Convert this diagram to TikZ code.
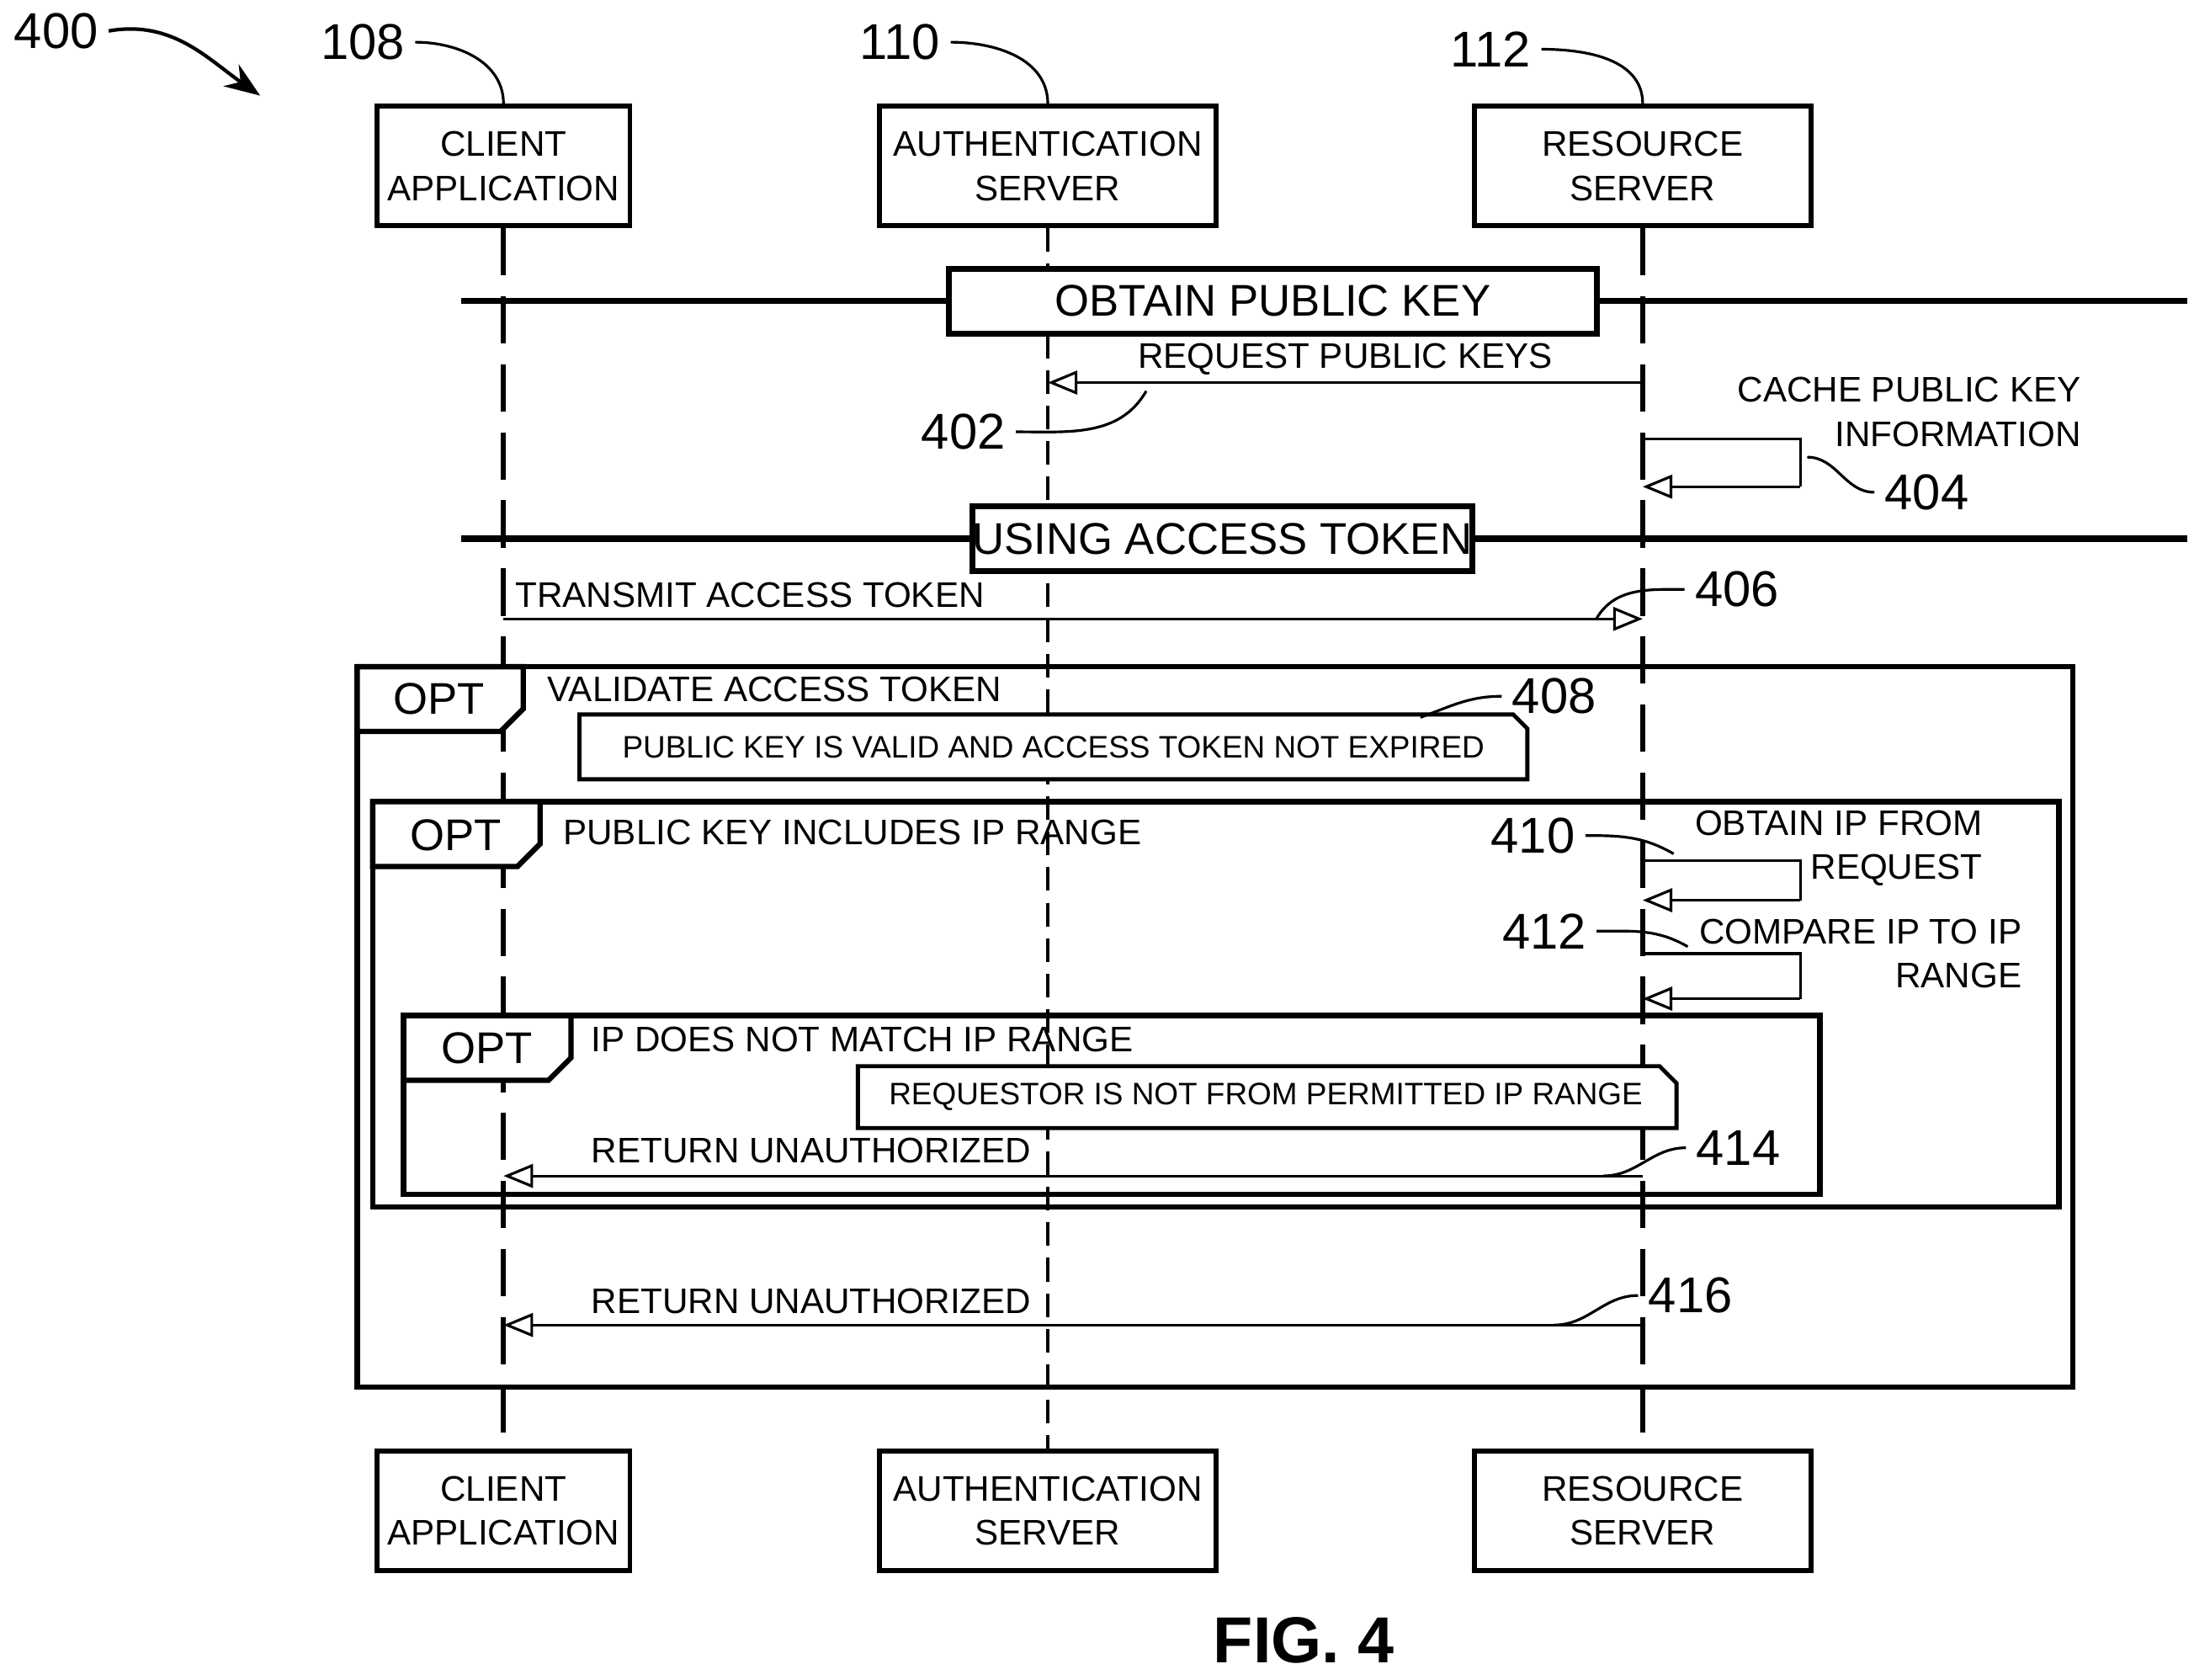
\documentclass[tikz,border=0pt]{standalone}
\usepackage{fontspec}
\setmainfont{Liberation Sans}
\usetikzlibrary{arrows.meta,positioning,shapes.misc}
\tikzset{
  actor/.style={draw,line width=1.6pt,minimum width=3.0cm,minimum height=1.42cm,inner sep=0pt,align=center,font=\fontsize{12}{15}\selectfont},
  wide/.style={minimum width=4.0cm},
  msg/.style={-{Triangle[open,length=10pt,width=8pt]},line width=0.9pt},
  life/.style={line width=1.8pt,dash pattern=on 16pt off 7pt},
  sep/.style={line width=2.2pt},
  sepbox/.style={draw,fill=white,line width=2pt,font=\fontsize{15}{18}\selectfont,inner sep=0pt},
  txt/.style={font=\fontsize{12}{15}\selectfont,inner sep=1pt},
  small/.style={font=\fontsize{10.5}{13}\selectfont,inner sep=1pt},
  ref/.style={font=\fontsize{17}{20}\selectfont},
  lead/.style={line width=0.9pt},
  frame/.style={draw,line width=1.8pt},
}
\begin{document}
\begin{tikzpicture}[x=0.01671cm,y=-0.01671cm]
\useasboundingbox (0,0) rectangle (1560,1194);
% actors
\node[actor] (cl) at (358,118) {CLIENT\\APPLICATION};
\node[actor,wide] (au) at (745,118) {AUTHENTICATION\\SERVER};
\node[actor,wide] (rs) at (1168,118) {RESOURCE\\SERVER};
\node[actor] (clb) at (358,1074) {CLIENT\\APPLICATION};
\node[actor,wide] (aub) at (745,1074) {AUTHENTICATION\\SERVER};
\node[actor,wide] (rsb) at (1168,1074) {RESOURCE\\SERVER};
\draw[life] (cl.south) -- (clb.north);
\draw[life,line width=1pt,dash pattern=on 8pt off 4pt] (au.south) -- (aub.north);
\draw[life] (rs.south) -- (rsb.north);
% reference numerals
\node[ref] (n400) at (40,22) {400};
\node[ref] (n108) at (258,30) {108};
\node[ref] (n110) at (640,30) {110};
\node[ref] (n112) at (1060,35) {112};
\draw[-{Stealth[length=12pt]},line width=1.2pt] (n400.east) to[out=10,in=145] (185,68);
\draw[lead] (n108.east) to[out=0,in=90] (cl.north);
\draw[lead] (n110.east) to[out=0,in=90] (au.north);
\draw[lead] (n112.east) to[out=0,in=90] (rs.north);
% obtain public key
\coordinate (s1l) at (328,214); \coordinate (s1r) at (1555,214);
\draw[sep] (s1l) -- (s1r);
\node[sepbox,minimum width=7.7cm,minimum height=0.77cm] (s1) at (905,214) {OBTAIN PUBLIC KEY};
\coordinate (rq1) at (1168,272); \coordinate (rq2) at (745,272);
\draw[msg] (rq1) -- node[txt,above=1pt] {REQUEST PUBLIC KEYS} (rq2);
\node[ref] (n402) at (685,307) {402};
\draw[lead] (n402.east) to[out=0,in=240] (815,278);
\coordinate (c1) at (1168,312); \coordinate (c2) at (1280,312);
\coordinate (c3) at (1280,346); \coordinate (c4) at (1168,346);
\draw[lead] (c1) -- (c2) -- (c3);
\draw[msg] (c3) -- (c4);
\node[txt,align=right,anchor=east] (cache) at (1482,293) {CACHE PUBLIC KEY\\INFORMATION};
\node[ref] (n404) at (1370,350) {404};
\draw[lead] (1285,325) to[out=0,in=180] (n404.west);
% using access token
\coordinate (s2l) at (328,383); \coordinate (s2r) at (1555,383);
\draw[sep] (s2l) -- (s2r);
\node[sepbox,minimum width=5.92cm,minimum height=0.77cm] (s2) at (869,383) {USING ACCESS TOKEN};
\coordinate (tr1) at (358,440); \coordinate (tr2) at (1168,440);
\draw[msg] (tr1) -- (tr2);
\node[txt,anchor=west] (trt) at (364,423) {TRANSMIT ACCESS TOKEN};
\node[ref] (n406) at (1235,419) {406};
\draw[lead] (n406.west) to[out=180,in=60] (1135,440);
% opt 1
\draw[frame] (254,474) rectangle (1474,986);
\draw[frame,fill=white] (254,474) -- (372,474) -- (372,504) -- (356,520) -- (254,520) -- cycle;
\node[ref,font=\fontsize{15}{18}\selectfont] (o1) at (312,497) {OPT};
\node[txt,anchor=west] (o1t) at (387,490) {VALIDATE ACCESS TOKEN};
\draw[frame,line width=1.4pt,fill=white] (412,508) -- (1076,508) -- (1086,518) -- (1086,554) -- (412,554) -- cycle;
\node[small] (nt1) at (749,531) {PUBLIC KEY IS VALID AND ACCESS TOKEN NOT EXPIRED};
\node[ref] (n408) at (1105,495) {408};
\draw[lead] (n408.west) to[out=180,in=20] (1010,510);
% opt 2
\draw[frame] (265,570) rectangle (1464,858);
\draw[frame,fill=white] (265,570) -- (384,570) -- (384,600) -- (368,616) -- (265,616) -- cycle;
\node[ref,font=\fontsize{15}{18}\selectfont] (o2) at (324,594) {OPT};
\node[txt,anchor=west] (o2t) at (398,592) {PUBLIC KEY INCLUDES IP RANGE};
\node[ref] (n410) at (1090,594) {410};
\draw[lead] (n410.east) to[out=0,in=150] (1190,607);
\coordinate (d1) at (1168,612); \coordinate (d2) at (1280,612);
\coordinate (d3) at (1280,640); \coordinate (d4) at (1168,640);
\draw[lead] (d1) -- (d2) -- (d3);
\draw[msg] (d3) -- (d4);
\node[txt,align=right,anchor=east] (obt) at (1412,603) {OBTAIN IP FROM\\REQUEST};
\node[ref] (n412) at (1098,662) {412};
\draw[lead] (n412.east) to[out=0,in=150] (1200,673);
\coordinate (e1) at (1168,678); \coordinate (e2) at (1280,678);
\coordinate (e3) at (1280,710); \coordinate (e4) at (1168,710);
\draw[lead] (e1) -- (e2) -- (e3);
\draw[msg] (e3) -- (e4);
\node[txt,align=right,anchor=east] (cmp) at (1440,678) {COMPARE IP TO IP\\RANGE};
% opt 3
\draw[frame] (287,722) rectangle (1294,849);
\draw[frame,fill=white] (287,722) -- (406,722) -- (406,752) -- (390,768) -- (287,768) -- cycle;
\node[ref,font=\fontsize{15}{18}\selectfont] (o3) at (346,745) {OPT};
\node[txt,anchor=west] (o3t) at (418,739) {IP DOES NOT MATCH IP RANGE};
\draw[frame,line width=1.4pt,fill=white] (610,758) -- (1180,758) -- (1192,770) -- (1192,802) -- (610,802) -- cycle;
\node[small] (nt2) at (900,780) {REQUESTOR IS NOT FROM PERMITTED IP RANGE};
\coordinate (u1) at (1168,836); \coordinate (u2) at (358,836);
\draw[msg] (u1) -- (u2);
\node[txt,anchor=west] (u1t) at (418,818) {RETURN UNAUTHORIZED};
\node[ref] (n414) at (1236,816) {414};
\draw[lead] (n414.west) to[out=180,in=0] (1140,836);
% final return
\coordinate (v1) at (1168,942); \coordinate (v2) at (358,942);
\draw[msg] (v1) -- (v2);
\node[txt,anchor=west] (v1t) at (418,925) {RETURN UNAUTHORIZED};
\node[ref] (n416) at (1202,921) {416};
\draw[lead] (n416.west) to[out=180,in=0] (1105,942);
\node[font=\bfseries\fontsize{22}{24}\selectfont] (fig) at (927,1166) {FIG. 4};
\end{tikzpicture}
\end{document}
